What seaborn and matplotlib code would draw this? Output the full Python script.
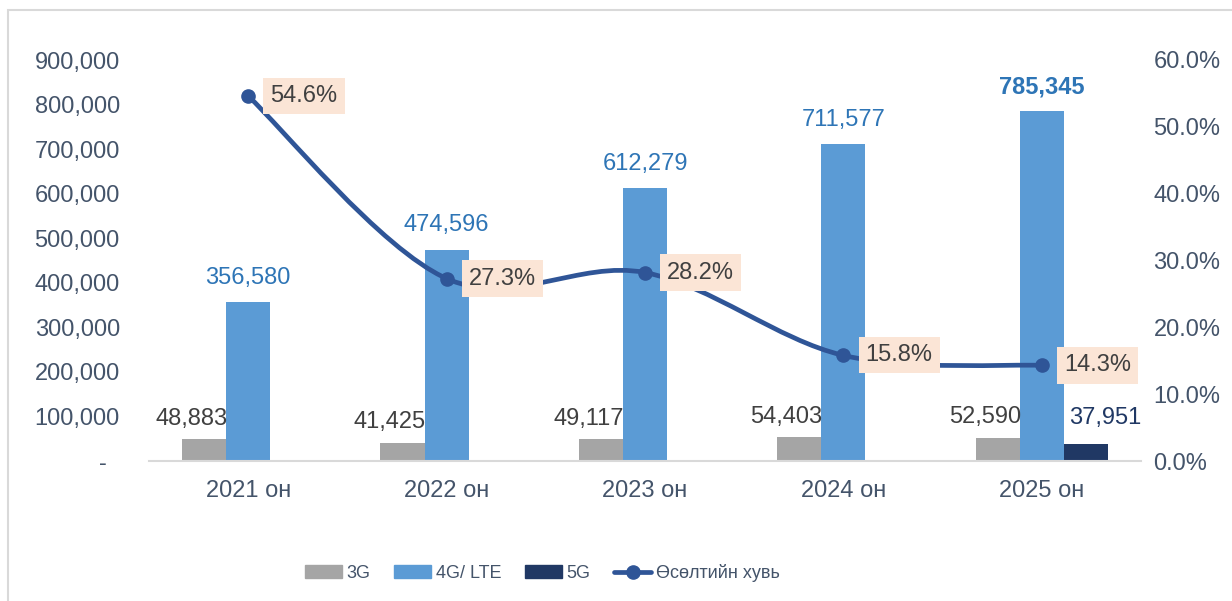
import numpy as np
import pandas as pd
import matplotlib
matplotlib.use("Agg")
import matplotlib.pyplot as plt
import seaborn as sns
from matplotlib.path import Path
from matplotlib.patches import PathPatch, Patch, Rectangle
from matplotlib.lines import Line2D
from matplotlib import font_manager

# Өгөгдөл
years = ["2021 он", "2022 он", "2023 он", "2024 он", "2025 он"]
series = ["3G", "4G/ LTE", "5G"]
vals_3g = [48883, 41425, 49117, 54403, 52590]
vals_4g = [356580, 474596, 612279, 711577, 785345]
vals_5g = [0, 0, 0, 0, 37951]
growth = [54.6, 27.3, 28.2, 15.8, 14.3]
growth_label = "Өсөлтийн хувь"

c3, c4, c5 = "#A5A5A5", "#5B9BD5", "#203864"
line_c = "#2F5597"
tick_c = "#44546A"

sns.set_theme(style="white")
plt.rcParams["font.family"] = ["Liberation Sans", "DejaVu Sans"]

# legend-д нарийн фонт байвал ашиглана
names = {f.name for f in font_manager.fontManager.ttflist}
if "Liberation Sans Narrow" in names:
    leg_font = {"family": "Liberation Sans Narrow", "size": 16}
else:
    leg_font = {"family": "Liberation Sans", "size": 13}

df = pd.DataFrame({
    "year": years * 3,
    "type": [s for s in series for _ in years],
    "value": vals_3g + vals_4g + vals_5g,
})

fig = plt.figure(figsize=(12.32, 6.01), dpi=100)
ax = fig.add_axes([149 / 1232, 1 - 461 / 601, (1141 - 149) / 1232, (461 - 60) / 601])

group_w = 0.667
bw = group_w / 3
sns.barplot(data=df, x="year", y="value", hue="type", hue_order=series,
            palette=[c3, c4, c5], width=group_w, gap=0, saturation=1,
            legend=False, ax=ax, linewidth=0)

ax.set_xlim(-0.5, len(years) - 0.5)
ax.set_ylim(0, 900000)
ticks = list(range(0, 900001, 100000))
ax.set_yticks(ticks)
ax.set_yticklabels(["-  "] + [f"{t:,}" for t in ticks[1:]])
ax.set_xlabel("")
ax.set_ylabel("")
ax.tick_params(axis="y", length=0, pad=21, labelsize=17, labelcolor=tick_c)
ax.tick_params(axis="x", length=0, pad=14, labelsize=17, labelcolor=tick_c)
for s in ["left", "right", "top"]:
    ax.spines[s].set_visible(False)
ax.spines["bottom"].set_color("#D9D9D9")
ax.spines["bottom"].set_linewidth(1.5)

# Баганын шошго
for i in range(len(years)):
    ax.annotate(f"{vals_3g[i]:,}", (i - bw / 2, vals_3g[i]), xytext=(1, 14.5),
                textcoords="offset points", ha="right", va="center",
                fontsize=17, color="#404040")
    bold = "bold" if i == len(years) - 1 else "normal"
    ax.annotate(f"{vals_4g[i]:,}", (i, vals_4g[i]), xytext=(0, 17.5),
                textcoords="offset points", ha="center", va="center",
                fontsize=17, color="#2E75B6", fontweight=bold)
    if vals_5g[i] > 0:
        ax.annotate(f"{vals_5g[i]:,}", (i + bw, vals_5g[i]), xytext=(14, 19),
                    textcoords="offset points", ha="center", va="center",
                    fontsize=17, color=c5)

# Өсөлтийн шугам
ax2 = ax.twinx()
ax2.set_ylim(0, 60)
ax2.set_yticks(range(0, 61, 10))
ax2.set_yticklabels([f"{t:.1f}%" for t in range(0, 61, 10)])
ax2.tick_params(axis="y", length=0, pad=9, labelsize=17, labelcolor=tick_c)
for s in ax2.spines.values():
    s.set_visible(False)

pts = np.column_stack([np.arange(len(growth)), growth]).astype(float)
n = len(pts)
verts = [tuple(pts[0])]
for i in range(n - 1):
    p0 = pts[max(i - 1, 0)]
    p1 = pts[i]
    p2 = pts[i + 1]
    p3 = pts[min(i + 2, n - 1)]
    verts += [tuple(p1 + (p2 - p0) / 6), tuple(p2 - (p3 - p1) / 6), tuple(p2)]
codes = [Path.MOVETO] + [Path.CURVE4] * (3 * (n - 1))
ax2.add_patch(PathPatch(Path(verts, codes), facecolor="none", edgecolor=line_c,
                        lw=3.4, capstyle="round", zorder=3))
ax2.plot(pts[:, 0], pts[:, 1], "o", ms=9.5, color=line_c, zorder=4)

for i, g in enumerate(growth):
    ax2.annotate(f"{g:.1f}%", (i, g), xytext=(16, 0), textcoords="offset points",
                 ha="left", va="center", fontsize=17, color="#404040", zorder=5,
                 bbox=dict(boxstyle="square,pad=0.3", fc="#FBE5D6", ec="none"))

handles = [Patch(color=c3), Patch(color=c4), Patch(color=c5),
           Line2D([], [], color=line_c, lw=3.4, marker="o", ms=9.5)]
lg_size = leg_font["size"]
fig.legend(handles, series + [growth_label], loc="center",
           bbox_to_anchor=(542 / 1232, 1 - 573 / 601), ncol=4, frameon=False,
           prop=leg_font, handlelength=27 / lg_size, handleheight=9 / lg_size,
           handletextpad=3 / lg_size, columnspacing=17 / lg_size,
           labelcolor=tick_c)

fig.add_artist(Rectangle((8 / 1232, -0.05), 1.1, 1 - 10.5 / 601 + 0.05,
                         transform=fig.transFigure, fill=False,
                         edgecolor="#D9D9D9", lw=1.5))

fig.savefig("out.png", dpi=100)
